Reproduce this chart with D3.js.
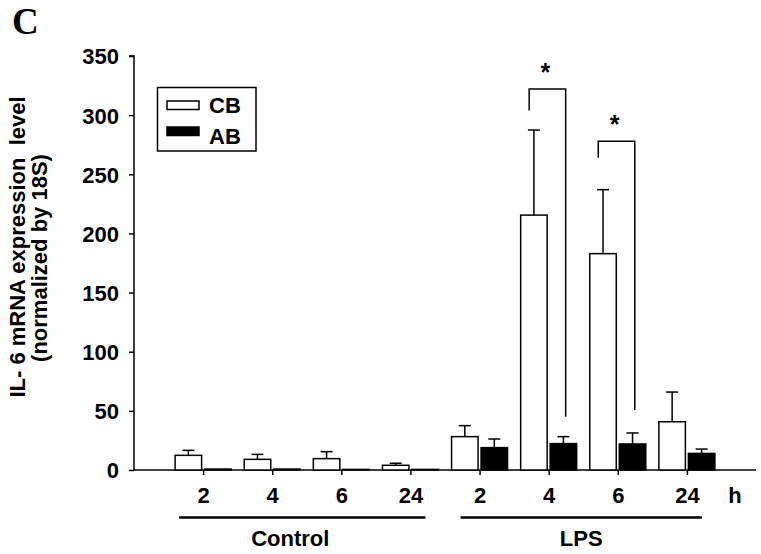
<!DOCTYPE html>
<html>
<head>
<meta charset="utf-8">
<script src="https://cdn.jsdelivr.net/npm/d3@7"></script>
<style>
  html, body { margin: 0; padding: 0; background: #fff; }
  svg { display: block; }
  text { font-family: "Liberation Sans", Arial, sans-serif; font-weight: bold; fill: #000; white-space: pre; }
</style>
</head>
<body>
<svg id="chart" width="761" height="554"></svg>
<script>
// ---- data ----
const groups = ["Control", "LPS"];
const timeLabels = ["2", "4", "6", "24"];
const categories = ["Control-2", "Control-4", "Control-6", "Control-24", "LPS-2", "LPS-4", "LPS-6", "LPS-24"];
const cbValues = [12.4, 9.0, 9.6, 4.0, 28.2, 215.5, 182.9, 40.8];
const cbErrors = [4.2, 4.2, 5.9, 1.7, 9.3, 71.9, 54.1, 25.1];
const abValues = [0.8, 0.8, 0.5, 0.5, 18.9, 22.3, 22.0, 14.0];
const abErrors = [0.0, 0.0, 0.0, 0.0, 7.3, 5.9, 9.3, 3.7];
const yTicks = [0, 50, 100, 150, 200, 250, 300, 350];
const seriesNames = ["CB", "AB"];
// significance brackets: category index, bracket top, left foot, right foot
const sigIndex = [5, 6];
const sigTop = [322, 278];
const sigLeftFoot = [304, 264];
const sigRightFoot = [45, 50.7];
const sigLabel = ["*", "*"];

// ---- layout ----
const svg = d3.select("#chart");
const x0 = 134, x1 = 756, yBase = 470, yTop = 56;
const FS = "22px";

const x = d3.scalePoint().domain(categories).range([x0, x1]).padding(1);
const y = d3.scaleLinear().domain([0, 350]).range([yBase, yTop]);

// panel letter
svg.append("text").attr("x", 12).attr("y", 33.5)
  .style("font-family", "'Liberation Serif', 'Times New Roman', serif")
  .style("font-size", "37px").text("C");

// y axis
const yAxis = d3.axisLeft(y).tickValues(yTicks).tickSize(5).tickPadding(10).tickFormat(d3.format("d"));
const gy = svg.append("g").attr("transform", `translate(${x0},0)`).call(yAxis);
gy.select(".domain").attr("d", `M-5,${y(350)}H0V${yBase}`).attr("stroke", "#000").attr("stroke-width", 1.5);
gy.selectAll(".tick line").attr("stroke", "#000").attr("stroke-width", 1.5);
gy.selectAll(".tick text").style("font-size", FS).style("font-family", "'Liberation Sans', Arial, sans-serif").style("font-weight", "bold").attr("dy", "0.36em");

// x axis
const xAxis = d3.axisBottom(x).tickSize(5).tickFormat((d, i) => timeLabels[i % timeLabels.length]).tickPadding(12);
const gx = svg.append("g").attr("transform", `translate(0,${yBase})`).call(xAxis);
gx.select(".domain").attr("d", `M${x0},0H${x1}`).attr("stroke", "#000").attr("stroke-width", 1.5);
gx.selectAll(".tick line").attr("stroke", "#000").attr("stroke-width", 1.5);
gx.selectAll(".tick text").style("font-size", FS).style("font-family", "'Liberation Sans', Arial, sans-serif").style("font-weight", "bold").attr("dy", null).attr("y", 33);

svg.append("text").attr("x", 735).attr("y", 503).attr("text-anchor", "middle")
  .style("font-size", FS).text("h");

// y label
svg.append("g").attr("transform", "translate(25,247) rotate(-90)")
  .append("text").attr("text-anchor", "middle").style("font-size", FS).text("IL- 6 mRNA expression  level");
svg.append("g").attr("transform", "translate(47,258) rotate(-90)")
  .append("text").attr("text-anchor", "middle").style("font-size", FS).text("(normalized by 18S)");

// bars
const barW = 26.5;
const cbOffset = -28, abOffset = 1.5;
const bars = svg.append("g");
function drawSeries(vals, errs, off, fill) {
  const g = bars.append("g");
  g.selectAll("line.err").data(categories).join("line")
    .attr("x1", d => x(d) + off + barW / 2)
    .attr("x2", d => x(d) + off + barW / 2)
    .attr("y1", (d, i) => y(vals[i]))
    .attr("y2", (d, i) => y(vals[i] + errs[i]))
    .attr("stroke", "#000").attr("stroke-width", 1.5)
    .attr("display", (d, i) => errs[i] > 0 ? null : "none");
  g.selectAll("line.cap").data(categories).join("line")
    .attr("x1", d => x(d) + off + barW / 2 - 6)
    .attr("x2", d => x(d) + off + barW / 2 + 6)
    .attr("y1", (d, i) => y(vals[i] + errs[i]))
    .attr("y2", (d, i) => y(vals[i] + errs[i]))
    .attr("stroke", "#000").attr("stroke-width", 1.5)
    .attr("display", (d, i) => errs[i] > 0 ? null : "none");
  g.selectAll("rect").data(categories).join("rect")
    .attr("x", d => x(d) + off)
    .attr("width", barW)
    .attr("y", (d, i) => y(vals[i]))
    .attr("height", (d, i) => yBase - y(vals[i]))
    .attr("fill", fill).attr("stroke", "#000").attr("stroke-width", 1.5);
}
drawSeries(cbValues, cbErrors, cbOffset, "#fff");
drawSeries(abValues, abErrors, abOffset, "#000");

// significance brackets
const sig = svg.append("g");
sigIndex.forEach((ci, k) => {
  const cx = x(categories[ci]);
  const lx = cx - 19.5, rx = cx + 17;
  sig.append("path")
    .attr("d", `M${lx},${y(sigLeftFoot[k])}V${y(sigTop[k])}H${rx}V${y(sigRightFoot[k])}`)
    .attr("fill", "none").attr("stroke", "#000").attr("stroke-width", 1.5);
  sig.append("text").attr("x", (lx + rx) / 2 - 2).attr("y", y(sigTop[k]) - 8)
    .attr("text-anchor", "middle").style("font-size", "25px").text(sigLabel[k]);
});

// group underlines and labels
const underlineStart = [-24, -19];
const labelShift = [-12, 0];
groups.forEach((gname, gi) => {
  const cats = categories.slice(gi * 4, gi * 4 + 4);
  const a = x(cats[0]) + underlineStart[gi], b = x(cats[3]) + 15;
  svg.append("line").attr("x1", a).attr("x2", b).attr("y1", 517.5).attr("y2", 517.5)
    .attr("stroke", "#000").attr("stroke-width", 2.5);
  svg.append("text").attr("x", (a + b) / 2 + labelShift[gi]).attr("y", 546).attr("text-anchor", "middle")
    .style("font-size", FS).text(gname);
});

// legend
const lg = svg.append("g");
lg.append("rect").attr("x", 157.5).attr("y", 87.5).attr("width", 98.5).attr("height", 63.5)
  .attr("fill", "#fff").attr("stroke", "#000").attr("stroke-width", 1.5);
seriesNames.forEach((s, i) => {
  lg.append("rect").attr("x", 167).attr("y", 101 + i * 26).attr("width", 32).attr("height", 8.5)
    .attr("fill", i === 0 ? "#fff" : "#000").attr("stroke", "#000").attr("stroke-width", 1.5);
  lg.append("text").attr("x", 209).attr("y", 112.5 + i * 31).style("font-size", FS).text(s);
});
</script>
</body>
</html>
